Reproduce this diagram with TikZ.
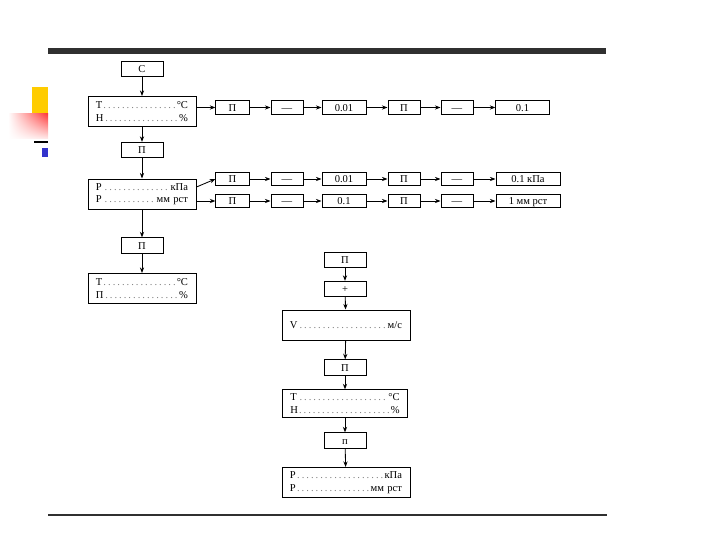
\documentclass[tikz,border=0pt]{standalone}
\usepackage{fontspec}
\setmainfont{Liberation Serif}
\usepackage{xcolor}
\usetikzlibrary{arrows.meta, calc, positioning, shadings}

\definecolor{slidebar}{HTML}{303030}
\definecolor{slidegold}{HTML}{FFCC00}
\definecolor{slideblue}{HTML}{3333CC}
\newcommand{\dotlead}{\textcolor{gray}{\dotfill}}

\begin{document}
\begin{tikzpicture}[>={Stealth[length=4pt, width=3pt]}, x=0.25mm, y=-0.25mm,
    box/.style={draw, line width=0.7pt, inner sep=0pt,
                font=\fontsize{7.5pt}{9pt}\selectfont},
    colbox/.style={box, minimum width=10.5mm, minimum height=3.8mm,
                   text height=1.6ex, text depth=0.4ex},
    rowbox/.style={box, minimum width=#1, minimum height=3.4mm,
                   text height=1.6ex, text depth=0.4ex},
    bigbox/.style={box, align=left, text width=#1, inner xsep=2mm,
                   minimum height=7.5mm},
    conn/.style={->, line width=0.6pt}]

\useasboundingbox (0,0) rectangle (720,540);

% ============================================================
% SLIDE FRAME
% ============================================================

\fill[slidebar] (48,48) rectangle (606,54);
\fill[slidebar] (48,514) rectangle (607,516);

\fill[slidegold] (32,87) rectangle (48,113);
\shade[upper left=white, upper right=red!80, lower left=white, lower right=red!10]
    (8,113) rectangle (48,138);
\fill[black] (34,141) rectangle (48,143);
\fill[slideblue] (42,148) rectangle (48,157);

% ============================================================
% LEFT COLUMN
% ============================================================

\node[colbox] (c)  at (142, 69)    {С};
\node[bigbox=23mm] (th) at (142, 111.5)
    {Т\dotlead °С\\Н\dotlead \%};
\node[colbox] (pa) at (142, 150)   {П};
\node[bigbox=23mm] (pk) at (142, 194)
    {Р\dotlead кПа\\Р\dotlead мм рст};
\node[colbox] (pb) at (142, 245.5) {П};
\node[bigbox=23mm] (tp) at (142, 288.5)
    {Т\dotlead °С\\П\dotlead \%};

\draw[conn] (c)  -- (th);
\draw[conn] (th) -- (pa);
\draw[conn] (pa) -- (pk);
\draw[conn] (pk) -- (pb);
\draw[conn] (pb) -- (tp);

% ============================================================
% ROWS TO THE RIGHT
% ============================================================

% row a: temperature / humidity
\node[rowbox=8.3mm]  (ra1) at (232.5, 107.5) {П};
\node[rowbox=8mm]    (ra2) at (287,   107.5) {---};
\node[rowbox=11mm]   (ra3) at (344,   107.5) {0.01};
\node[rowbox=8mm]    (ra4) at (404,   107.5) {П};
\node[rowbox=8mm]    (ra5) at (457,   107.5) {---};
\node[rowbox=13.3mm] (ra6) at (522.5, 107.5) {0.1};

% row b: pressure, kPa
\node[rowbox=8.3mm]  (rb1) at (232.5, 179) {П};
\node[rowbox=8mm]    (rb2) at (287,   179) {---};
\node[rowbox=11mm]   (rb3) at (344,   179) {0.01};
\node[rowbox=8mm]    (rb4) at (404,   179) {П};
\node[rowbox=8mm]    (rb5) at (457,   179) {---};
\node[rowbox=16mm]   (rb6) at (528,   179) {0.1 кПа};

% row c: pressure, mm
\node[rowbox=8.3mm]  (rc1) at (232.5, 201) {П};
\node[rowbox=8mm]    (rc2) at (287,   201) {---};
\node[rowbox=11mm]   (rc3) at (344,   201) {0.1};
\node[rowbox=8mm]    (rc4) at (404,   201) {П};
\node[rowbox=8mm]    (rc5) at (457,   201) {---};
\node[rowbox=16mm]   (rc6) at (528,   201) {1 мм рст};

\draw[conn] (th.east |- ra1) -- (ra1);
\draw[conn] ($(pk.east)+(0,-7)$) -- (rb1.west);
\draw[conn] (pk.east |- rc1) -- (rc1);

\foreach \r in {ra, rb, rc} {
    \foreach \i/\j in {1/2, 2/3, 3/4, 4/5, 5/6} {
        \draw[conn] (\r\i) -- (\r\j);
    }
}

% ============================================================
% RIGHT COLUMN
% ============================================================

\node[colbox] (qa) at (345, 260)   {П};
\node[colbox] (qp) at (345, 289)   {+};
\node[bigbox=28mm] (qv) at (346, 325) {V\dotlead м/с};
\node[colbox] (qb) at (345, 367.5) {П};
\node[bigbox=27.3mm, minimum height=6.8mm] (qt) at (345, 403.5)
    {Т\dotlead °С\\Н\dotlead \%};
\node[colbox] (qc) at (345, 440.5) {п};
\node[bigbox=28mm] (qk) at (346, 482.5)
    {Р\dotlead кПа\\Р\dotlead мм рст};

\foreach \a/\b in {qa/qp, qp/qv, qv/qb, qb/qt, qt/qc, qc/qk} {
    \draw[conn] (\a) -- (\b);
}

\end{tikzpicture}
\end{document}
